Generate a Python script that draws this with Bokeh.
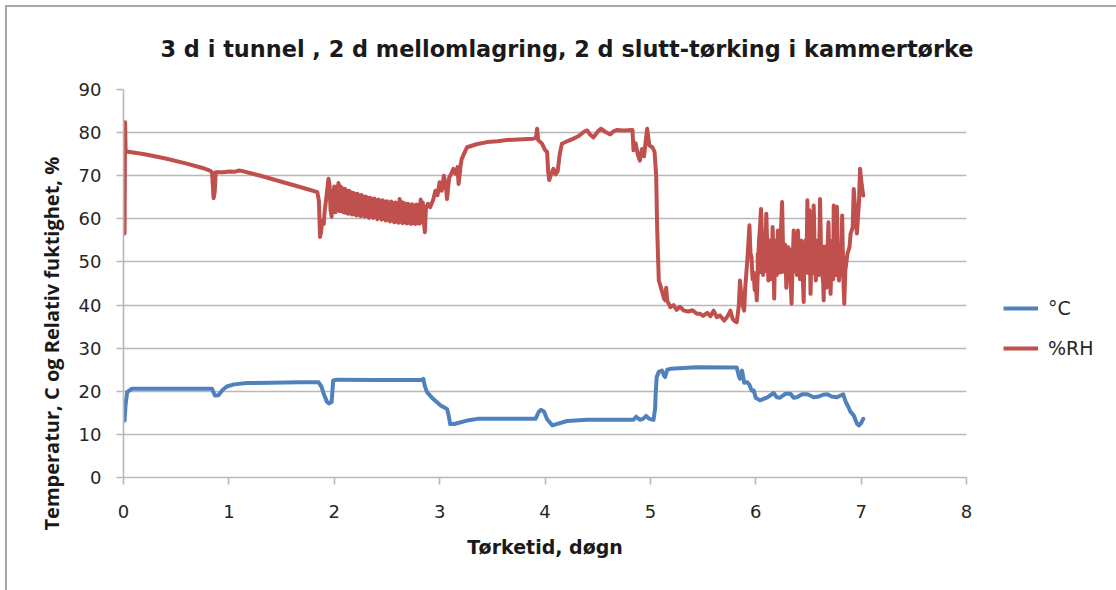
from bokeh.plotting import figure
from bokeh.layouts import row
from bokeh.models import Legend, LegendItem, FixedTicker, Range1d, Title
from bokeh.embed import file_html
from bokeh.resources import INLINE

TITLE = "3 d i tunnel , 2 d mellomlagring, 2 d slutt-tørking i kammertørke"
X_LABEL = "Tørketid, døgn"
Y_LABEL = "Temperatur, C og Relativ fuktighet, %"
SERIES_NAMES = ["°C", "%RH"]
X_TICKS = [0, 1, 2, 3, 4, 5, 6, 7, 8]
Y_TICKS = [0, 10, 20, 30, 40, 50, 60, 70, 80, 90]

# Temperature (°C)
temp_x = [0.01, 0.02, 0.035, 0.08, 0.4, 0.84, 0.86, 0.87, 0.9, 0.94, 0.98, 1.05, 1.17, 1.4, 1.68,
          1.85, 1.88, 1.90, 1.93, 1.95, 1.975, 1.99, 2.03, 2.4, 2.83, 2.845, 2.86, 2.88, 2.94, 3.01,
          3.07, 3.085, 3.10, 3.14, 3.26, 3.36, 3.6, 3.91, 3.94, 3.96, 3.99, 4.02, 4.07, 4.21, 4.40,
          4.84, 4.865, 4.9, 4.93, 4.96, 4.99, 5.03, 5.045, 5.05, 5.06, 5.08, 5.11, 5.13, 5.14, 5.16,
          5.19, 5.44, 5.82, 5.84, 5.85, 5.87, 5.89, 5.92, 5.94, 5.96, 5.98, 6.0, 6.04, 6.11, 6.17,
          6.2, 6.23, 6.28, 6.33, 6.36, 6.39, 6.44, 6.49, 6.55, 6.6, 6.64, 6.68, 6.72, 6.77, 6.83,
          6.855, 6.88, 6.9, 6.93, 6.96, 6.98, 7.0, 7.02]
temp_y = [13.2, 17.0, 19.8, 20.6, 20.6, 20.6, 19.4, 19.0, 19.1, 20.3, 21.1, 21.6, 21.9, 22.0, 22.1,
          22.1, 21.0, 19.4, 17.6, 17.2, 17.5, 22.5, 22.7, 22.6, 22.6, 22.9, 21.2, 19.8, 18.2, 16.7,
          15.9, 14.5, 12.4, 12.4, 13.2, 13.6, 13.6, 13.6, 15.2, 15.7, 15.3, 13.5, 12.1, 13.1, 13.4,
          13.4, 14.1, 13.4, 13.6, 14.3, 13.6, 13.4, 16.0, 19.4, 23.3, 24.5, 24.8, 23.6, 23.3, 25.0,
          25.2, 25.6, 25.5, 23.5, 22.9, 24.8, 22.0, 22.1, 21.5, 20.2, 20.2, 18.5, 17.9, 18.6, 19.6,
          18.6, 18.5, 19.4, 19.4, 18.5, 18.6, 19.3, 19.3, 18.6, 18.8, 19.2, 19.3, 18.8, 18.6, 19.3,
          17.5, 16.3, 15.2, 14.4, 12.5, 12.1, 12.6, 13.6]

# Relative humidity (%RH)
rh_x = [0.005, 0.01, 0.015, 0.02, 0.03, 0.2, 0.4, 0.6, 0.75, 0.82, 0.84, 0.855, 0.865, 0.875, 0.95,
        1.0, 1.05, 1.1, 1.14, 1.3, 1.5, 1.7, 1.84, 1.855, 1.865, 1.875, 1.885, 1.9, 1.91, 1.93,
        1.945, 1.955, 1.965, 1.975, 1.985,
        2.0, 2.01, 2.02, 2.03, 2.04, 2.05, 2.06, 2.07, 2.08, 2.09, 2.10, 2.11, 2.12, 2.13, 2.14,
        2.15, 2.16, 2.17, 2.18, 2.19, 2.2, 2.21, 2.22, 2.23, 2.24, 2.25, 2.26, 2.27, 2.28, 2.29,
        2.30, 2.31, 2.32, 2.33, 2.34, 2.35, 2.36, 2.37, 2.38, 2.39, 2.40, 2.41, 2.42, 2.43, 2.44,
        2.45, 2.46, 2.47, 2.48, 2.49, 2.5, 2.51, 2.52, 2.53, 2.54, 2.55, 2.56, 2.57, 2.58, 2.59,
        2.6, 2.61, 2.62, 2.63, 2.64, 2.65, 2.66, 2.67, 2.68, 2.69, 2.7, 2.71, 2.72, 2.73, 2.74,
        2.75, 2.76, 2.77, 2.78, 2.79, 2.8, 2.81, 2.82, 2.83, 2.84, 2.85, 2.86, 2.87, 2.89, 2.91,
        2.94, 2.96, 2.98, 3.0, 3.02, 3.04, 3.06, 3.07, 3.09, 3.11, 3.13, 3.15, 3.17, 3.18, 3.2,
        3.21, 3.23, 3.26, 3.35, 3.45, 3.55, 3.64, 3.75, 3.89, 3.915, 3.925, 3.935, 3.97, 4.0, 4.02,
        4.03, 4.04, 4.06, 4.08, 4.1, 4.12, 4.14, 4.16, 4.22, 4.27, 4.32, 4.37, 4.40, 4.43, 4.46,
        4.5, 4.53, 4.57, 4.62, 4.65, 4.68, 4.75, 4.83, 4.84, 4.86, 4.88, 4.9, 4.92, 4.94, 4.96,
        4.97, 4.99, 5.02, 5.04, 5.055, 5.065, 5.075, 5.08, 5.1, 5.13, 5.14, 5.15, 5.16, 5.19, 5.22,
        5.25, 5.28, 5.32, 5.36, 5.4, 5.44, 5.47, 5.5, 5.54, 5.57, 5.6, 5.63, 5.66, 5.7, 5.73,
        5.76, 5.78, 5.8, 5.82, 5.84, 5.85, 5.87, 5.89, 5.9, 5.92,
        5.94, 5.95, 5.96, 5.97, 5.98, 5.99, 6.0, 6.01, 6.02, 6.03, 6.04, 6.05, 6.06, 6.065, 6.07,
        6.08, 6.09, 6.10, 6.11, 6.12, 6.13, 6.14, 6.15, 6.16, 6.17, 6.175, 6.18, 6.19, 6.2, 6.21,
        6.22, 6.23, 6.24, 6.25, 6.26, 6.27, 6.28, 6.29, 6.3, 6.31, 6.32, 6.33, 6.34, 6.35, 6.36,
        6.37, 6.38, 6.39, 6.4, 6.41, 6.42, 6.43, 6.44, 6.45, 6.455, 6.46, 6.47, 6.48, 6.49, 6.50,
        6.51, 6.515, 6.52, 6.53, 6.54, 6.55, 6.56, 6.57, 6.58, 6.59, 6.6, 6.61, 6.62, 6.63, 6.64,
        6.645, 6.65, 6.66, 6.67, 6.68, 6.69, 6.7, 6.71, 6.72, 6.73, 6.735, 6.74, 6.75, 6.76, 6.77,
        6.78, 6.79, 6.8, 6.81, 6.82, 6.83, 6.84, 6.85, 6.87, 6.89, 6.90, 6.92, 6.93, 6.95, 6.96,
        6.98, 6.99, 7.005, 7.02]
rh_y = [60.0, 56.6, 82.4, 76.0, 75.6, 75.0, 74.0, 72.8, 71.8, 71.2, 70.8, 64.8, 66.0, 70.8, 70.8,
        71.0, 70.9, 71.2, 71.0, 70.0, 68.6, 67.2, 66.2, 64.0, 55.8, 57.0, 59.5, 58.8, 62.0, 66.0,
        69.3, 68.0, 62.0, 60.5, 65.0,
        67.5, 61.5, 66.5, 62.0, 68.3, 61.8, 67.5, 62.3, 66.8, 61.5, 67.0, 62.0, 66.3, 61.2, 66.5,
        61.8, 65.8, 61.0, 66.0, 61.5, 65.5, 60.8, 65.8, 61.2, 65.2, 60.6, 65.5, 61.0, 64.8, 60.5,
        65.2, 60.8, 64.6, 60.2, 64.9, 60.6, 64.4, 60.2, 64.7, 60.4, 64.2, 59.9, 64.5, 60.2, 64.0,
        59.8, 64.3, 60.0, 63.8, 59.6, 64.1, 59.8, 63.7, 59.4, 64.0, 59.6, 63.5, 59.2, 63.8, 59.4,
        63.4, 59.1, 64.6, 59.3, 63.3, 59.0, 63.6, 59.2, 63.2, 58.9, 63.5, 59.1, 63.1, 58.8, 63.4,
        59.0, 63.0, 58.8, 63.3, 59.0, 63.2, 58.9, 64.5, 59.2, 63.8, 59.5, 56.9, 62.5, 63.5, 62.7,
        64.5, 66.5, 65.5, 68.5, 66.5, 70.0, 67.5, 64.6, 69.5, 70.5, 71.6, 70.5, 72.0, 68.1, 72.5,
        73.9, 75.0, 76.6, 77.3, 77.8, 78.0, 78.3, 78.4, 78.6, 78.8, 80.9, 78.3, 77.5, 76.0, 75.5,
        71.0, 69.0, 70.5, 71.6, 70.3, 71.0, 75.0, 77.4, 78.1, 78.6, 79.2, 80.2, 80.5, 79.5, 78.9,
        80.2, 80.9, 80.2, 79.6, 80.3, 80.6, 80.5, 80.6, 75.9, 77.5, 75.0, 73.5, 76.2, 74.5, 79.0,
        80.9, 77.0, 76.6, 75.5, 70.0, 57.3, 49.6, 45.7, 44.1, 41.5, 41.1, 44.0, 41.0, 39.5, 40.0,
        38.9, 39.6, 38.7, 38.5, 38.8, 38.0, 38.0, 37.5, 38.2, 37.4, 38.7, 37.2, 37.6, 36.4, 37.3,
        38.7, 36.8, 36.3, 36.0, 40.0, 45.7, 40.5, 38.7, 44.0, 50.3,
        58.5, 52.0, 51.1, 46.0, 47.5, 43.5, 45.0, 41.1, 48.0, 54.6, 58.0, 62.3, 55.0, 52.0, 47.0,
        56.0, 50.0, 61.2, 53.0, 45.7, 55.0, 52.0, 46.0, 58.1, 50.0, 41.5, 48.0, 55.0, 47.0, 57.3,
        49.0, 52.0, 58.0, 63.9, 52.0, 48.8, 54.0, 44.0, 50.0, 53.4, 47.0, 46.0, 40.3, 50.0, 57.3,
        48.0, 55.0, 47.0, 57.3, 50.0, 46.0, 55.0, 52.0, 44.0, 40.7, 50.0, 55.0, 48.0, 64.3, 48.0,
        62.0, 50.0, 42.6, 55.0, 50.0, 63.1, 52.0, 45.7, 51.0, 55.0, 47.0, 64.6, 52.0, 48.0, 45.0,
        41.1, 52.0, 50.0, 44.0, 52.0, 59.2, 49.0, 42.6, 52.0, 55.0, 46.0, 63.1, 52.0, 48.0, 62.8,
        50.0, 45.7, 53.0, 47.0, 60.8, 47.0, 40.3, 48.0, 51.9, 53.5, 56.5, 58.0, 66.9, 60.0, 56.6,
        64.0, 71.6, 68.0, 65.4]

# Dense oscillation bands of %RH (envelopes)
band1_x = [1.99, 2.0, 2.04, 2.1, 2.2, 2.3, 2.4, 2.5, 2.6, 2.62, 2.7, 2.8, 2.82, 2.85]
band1_hi = [66.5, 67.6, 68.3, 67.2, 66.2, 65.4, 64.8, 64.3, 63.9, 64.6, 63.7, 63.4, 64.5, 63.8]
band1_lo = [61.5, 61.5, 61.5, 61.0, 60.6, 60.3, 59.9, 59.5, 59.2, 59.1, 58.9, 58.8, 58.9, 59.3]
band2_x = [6.0, 6.1, 6.2, 6.3, 6.4, 6.5, 6.6, 6.7, 6.8, 6.84]
band2_hi = [52.0, 53.0, 53.5, 53.0, 53.5, 54.0, 54.0, 54.0, 54.5, 53.0]
band2_lo = [47.0, 47.5, 47.0, 47.5, 47.5, 47.0, 47.0, 46.5, 46.5, 47.0]

BLUE = "#4F81BD"
RED = "#C0504D"
GRID = "#b8b8b8"
FONT = "DejaVu Sans"
YFONT = "Open Sans"
TXT = "#1a1a1a"

p = figure(width=990, height=590, output_backend="svg", toolbar_location=None,
           x_range=Range1d(0, 8), y_range=Range1d(0, 90),
           min_border_left=123, min_border_right=24, min_border_top=89, min_border_bottom=113)
p.outline_line_color = None
p.background_fill_color = "white"
p.border_fill_alpha = 0

p.xgrid.grid_line_color = None
p.ygrid.grid_line_color = GRID
p.ygrid.grid_line_width = 1.6

for ax in (p.xaxis[0], p.yaxis[0]):
    ax.axis_line_color = GRID
    ax.axis_line_width = 1.6
    ax.major_tick_line_color = GRID
    ax.major_tick_line_width = 1.6
    ax.major_tick_out = 7
    ax.major_tick_in = 0
    ax.minor_tick_line_color = None
    ax.major_label_text_font = FONT
    ax.major_label_text_font_size = "18px"
    ax.major_label_text_color = "#262626"
p.yaxis.major_label_standoff = 15
p.xaxis.major_label_standoff = 20

p.xaxis.ticker = FixedTicker(ticks=X_TICKS)
p.yaxis.ticker = FixedTicker(ticks=Y_TICKS)

p.xaxis.axis_label = X_LABEL
p.xaxis.axis_label_text_font = FONT
p.xaxis.axis_label_text_font_size = "19px"
p.xaxis.axis_label_text_font_style = "bold"
p.xaxis.axis_label_text_color = TXT
p.xaxis.axis_label_standoff = 15

p.line(temp_x, temp_y, line_color=BLUE, line_width=4, line_join="round", line_cap="round")
p.varea(x=band1_x, y1=band1_lo, y2=band1_hi, fill_color=RED)
p.varea(x=band2_x, y1=band2_lo, y2=band2_hi, fill_color=RED)
p.line(rh_x, rh_y, line_color=RED, line_width=4, line_join="round", line_cap="round")

title = Title(text=TITLE, align="left", offset=37, standoff=56, text_font=FONT,
              text_font_size="22.4px", text_font_style="bold", text_color=TXT)
p.add_layout(title, "above")

ytitle = Title(text=Y_LABEL, align="left", offset=-53, standoff=21, text_font=YFONT,
               text_font_size="20px", text_font_style="bold", text_color=TXT)
p.add_layout(ytitle, "left")

# Legend panel at the right of the chart
lg = figure(width=126, height=590, output_backend="svg", toolbar_location=None,
            x_range=Range1d(0, 1), y_range=Range1d(0, 1), x_axis_type=None, y_axis_type=None,
            min_border=0)
lg.outline_line_color = None
lg.background_fill_alpha = 0
lg.border_fill_alpha = 0
lg.grid.grid_line_color = None
k_t = lg.line([5, 6], [5, 6], line_color=BLUE, line_width=4)
k_h = lg.line([5, 6], [5, 6], line_color=RED, line_width=4)
legend = Legend(items=[LegendItem(label=SERIES_NAMES[0], renderers=[k_t]),
                       LegendItem(label=SERIES_NAMES[1], renderers=[k_h])],
                location=(13, 118), orientation="vertical",
                glyph_width=35, glyph_height=20, label_height=20, label_standoff=10,
                spacing=18, padding=0, margin=0, border_line_color=None,
                background_fill_alpha=0, label_text_font=FONT, label_text_font_size="19px",
                label_text_color="#262626")
lg.add_layout(legend)

layout = row(p, lg, spacing=0)
layout.styles = {"box-shadow": "inset 5px 5px 0 0 white, inset 7px 7px 0 0 #a6a6a6",
                 "background-color": "white"}

open("out.html", "w").write(file_html(layout, INLINE))
